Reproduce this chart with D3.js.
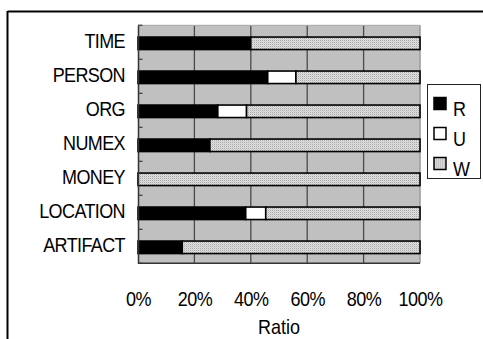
<!DOCTYPE html>
<html>
<head>
<meta charset="utf-8">
<script src="https://cdn.jsdelivr.net/npm/d3@7"></script>
<style>
  html, body { margin: 0; padding: 0; background: #fff; }
  svg { display: block; font-family: "Liberation Sans", Arial, sans-serif; }
</style>
</head>
<body>
<svg id="chart" width="483" height="339"></svg>
<script>
// Entity types, top to bottom
const categories = ["TIME", "PERSON", "ORG", "NUMEX", "MONEY", "LOCATION", "ARTIFACT"];
// Share of each outcome per entity type (percent)
const valuesR = [40, 46, 28.3, 25.5, 0, 38.2, 15.7];
const valuesU = [0, 10, 10.2, 0, 0, 7.1, 0];
const valuesW = [60, 44, 61.5, 74.5, 100, 54.7, 84.3];
const seriesNames = ["R", "U", "W"];
const xTicks = [0, 20, 40, 60, 80, 100];
const xTitle = "Ratio";

const svg = d3.select("#chart");

// Fine dotted texture used for the W series
const defs = svg.append("defs");
const pat = defs.append("pattern")
  .attr("id", "hatch")
  .attr("patternUnits", "userSpaceOnUse")
  .attr("width", 2).attr("height", 2);
pat.append("rect").attr("width", 2).attr("height", 2).attr("fill", "#e2e2e2");
pat.append("rect").attr("x", 0).attr("y", 0).attr("width", 1).attr("height", 1).attr("fill", "#a6a6a6");
pat.append("rect").attr("x", 1).attr("y", 1).attr("width", 1).attr("height", 1).attr("fill", "#cdcdcd");

const fills = { R: "#000", U: "#fff", W: "url(#hatch)" };

// Outer frame (top and left edges)
svg.append("line").attr("x1", 7.5).attr("x2", 483).attr("y1", 11.5).attr("y2", 11.5)
  .attr("stroke", "#000").attr("stroke-width", 2);
svg.append("line").attr("x1", 7.5).attr("x2", 7.5).attr("y1", 11).attr("y2", 339)
  .attr("stroke", "#000").attr("stroke-width", 2);

const plot = { left: 138, right: 420, top: 25.3, bottom: 263.3 };

const x = d3.scaleLinear().domain([0, 100]).range([plot.left, plot.right]);
const y = d3.scaleBand().domain(categories).range([plot.top, plot.bottom]).padding(0);
const barH = 12.5;

// Plot background
svg.append("rect")
  .attr("x", plot.left).attr("y", plot.top)
  .attr("width", plot.right - plot.left).attr("height", plot.bottom - plot.top)
  .attr("fill", "#c0c0c0");

// Vertical gridlines
svg.append("g").selectAll("line")
  .data(xTicks.filter(t => t > 0 && t < 100))
  .join("line")
  .attr("x1", d => x(d)).attr("x2", d => x(d))
  .attr("y1", plot.top).attr("y2", plot.bottom)
  .attr("stroke", "#4a4a4a").attr("stroke-width", 1.3);

// Plot frame: light top/right, dark left/bottom
svg.append("line").attr("x1", plot.left).attr("x2", plot.right).attr("y1", plot.top).attr("y2", plot.top)
  .attr("stroke", "#a8a8a8").attr("stroke-width", 1);
svg.append("line").attr("x1", plot.right).attr("x2", plot.right).attr("y1", plot.top).attr("y2", plot.bottom)
  .attr("stroke", "#9a9a9a").attr("stroke-width", 1.5);

// Stacked bars
const rows = categories.map((c, i) => ({ cat: c, R: valuesR[i], U: valuesU[i], W: valuesW[i] }));
const stack = d3.stack().keys(seriesNames)(rows);

svg.append("g").selectAll("g")
  .data(stack)
  .join("g")
  .attr("fill", d => fills[d.key])
  .selectAll("rect")
  .data(d => d.filter(p => p[1] - p[0] > 0))
  .join("rect")
  .attr("x", d => x(d[0]))
  .attr("width", d => x(d[1]) - x(d[0]))
  .attr("y", d => y(d.data.cat) + y.bandwidth() / 2 + 1 - barH / 2)
  .attr("height", barH)
  .attr("stroke", "#000").attr("stroke-width", 1.6);

// Category axis (inward ticks at band boundaries)
const yAxis = d3.axisLeft(y).tickSize(0).tickPadding(13).tickFormat(d => d);
const gy = svg.append("g").attr("transform", `translate(${plot.left},0)`).call(yAxis);
gy.select(".domain").attr("stroke", "#333").attr("stroke-width", 1.5);
gy.selectAll("text")
  .attr("font-size", 18).attr("fill", "#000")
  .attr("dy", null).attr("y", 0)
  .attr("transform", "translate(0,6) scale(1,1.08)")
  .style("letter-spacing", "-0.6px");
const bounds = categories.map(c => y(c)).concat([plot.bottom]);
svg.append("g").selectAll("line")
  .data(bounds)
  .join("line")
  .attr("x1", plot.left).attr("x2", plot.left + 4.5)
  .attr("y1", d => d).attr("y2", d => d)
  .attr("stroke", "#444").attr("stroke-width", 1.3);

// Bottom edge of plot
svg.append("line").attr("x1", plot.left).attr("x2", plot.right).attr("y1", plot.bottom).attr("y2", plot.bottom)
  .attr("stroke", "#333").attr("stroke-width", 1.5);

// Value axis labels
const xAxis = d3.axisBottom(x).tickValues(xTicks).tickSize(0).tickPadding(0).tickFormat(d => d + "%");
const gx = svg.append("g").attr("transform", `translate(0,${plot.bottom})`).call(xAxis);
gx.select(".domain").remove();
gx.selectAll("text")
  .attr("font-size", 18).attr("fill", "#000")
  .attr("dy", null).attr("y", 0)
  .attr("transform", "translate(0,43) scale(1,1.08)")
  .style("letter-spacing", "-0.5px");

svg.append("text")
  .attr("text-anchor", "middle").attr("font-size", 18).attr("fill", "#000")
  .attr("transform", `translate(${(plot.left + plot.right) / 2},333.5) scale(1,1.08)`)
  .text(xTitle);

// Legend
const legend = svg.append("g");
legend.append("rect")
  .attr("x", 427.5).attr("y", 84.5).attr("width", 53).attr("height", 94)
  .attr("fill", "#fff").attr("stroke", "#222").attr("stroke-width", 1);
const item = legend.selectAll("g.item")
  .data(seriesNames)
  .join("g").attr("class", "item")
  .attr("transform", (d, i) => `translate(434,${97.5 + i * 30})`);
item.append("rect")
  .attr("width", 12).attr("height", 12)
  .attr("fill", d => fills[d]).attr("stroke", "#000").attr("stroke-width", 1.5);
item.append("text")
  .attr("font-size", 18).attr("fill", "#000")
  .attr("transform", "translate(19,18.5) scale(1,1.08)")
  .text(d => d);
</script>
</body>
</html>
